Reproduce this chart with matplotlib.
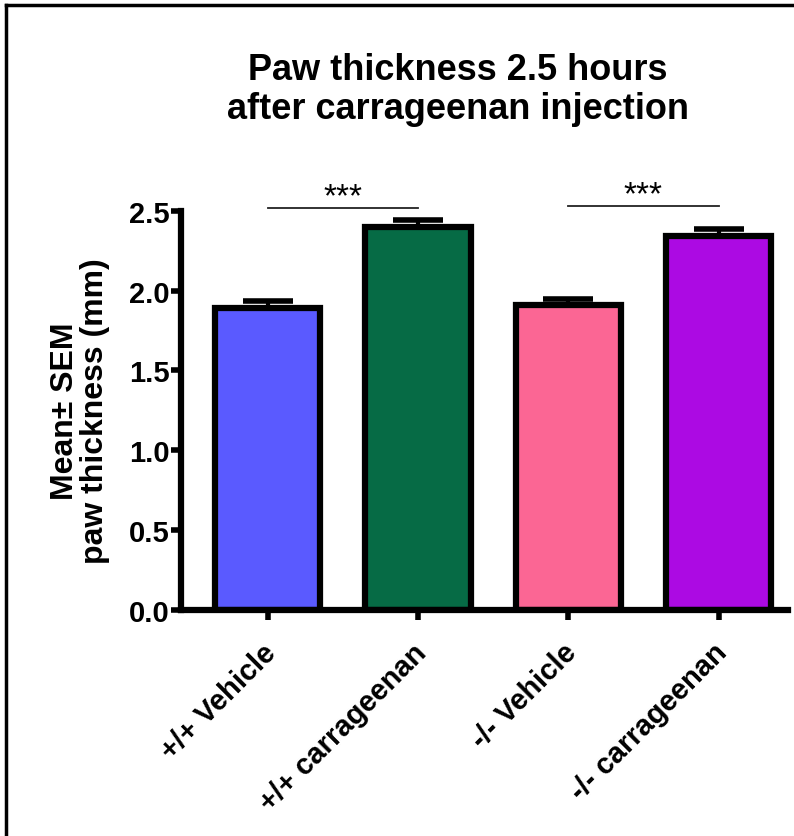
import numpy as np
import matplotlib
matplotlib.use('Agg')
import matplotlib.pyplot as plt
import matplotlib.transforms as mtransforms
from matplotlib.lines import Line2D

plt.rcParams['font.family'] = ['Liberation Sans', 'DejaVu Sans']
plt.rcParams['font.weight'] = 'bold'

groups = ['+/+ Vehicle', '+/+ carrageenan', '-/- Vehicle', '-/- carrageenan']
means = [1.89, 2.40, 1.91, 2.34]
sems = [0.045, 0.045, 0.04, 0.045]
colors = ['#5A5AFF', '#066B45', '#FB6694', '#AC0AE3']
sig_pairs = [(0, 1, 2.52), (2, 3, 2.53)]

fig = plt.figure(figsize=(7.94, 8.37), dpi=100)
ax = fig.add_axes([0.228, 0.270, 0.764, 0.477])

x = np.arange(len(groups))
ax.bar(x, means, width=0.70, color=colors, edgecolor='black', linewidth=4.5, zorder=2)
ax.errorbar(x, means, yerr=[np.zeros(len(sems)), sems], fmt='none', ecolor='black',
            elinewidth=3, capsize=18, capthick=4, zorder=1, clip_on=False)

for a, b, h in sig_pairs:
    ax.plot([a, b], [h, h], color='#222222', lw=1.3, clip_on=False)
    ax.text((a + b) / 2, h - 0.03, '***', ha='center', va='bottom', fontsize=24,
            fontweight='normal', clip_on=False)

ax.set_xlim(-0.576, 3.46)
ax.set_ylim(0, 2.5)
ax.set_yticks([0, 0.5, 1.0, 1.5, 2.0, 2.5])
ax.set_yticklabels(['0.0', '0.5', '1.0', '1.5', '2.0', '2.5'], fontsize=21, fontweight='bold')
ax.set_xticks(x)
ax.set_xticklabels(groups, rotation=45, ha='right', rotation_mode='anchor',
                   fontsize=21, fontweight='bold')
ax.tick_params(axis='both', width=4, length=7, direction='out', pad=1)
ax.tick_params(axis='x', pad=8)

# nudge rotated labels down-left a little
shift = mtransforms.ScaledTranslation(-6 / 100, -7 / 100, fig.dpi_scale_trans)
for lab in ax.get_xticklabels():
    lab.set_transform(lab.get_transform() + shift)

for s in ['top', 'right']:
    ax.spines[s].set_visible(False)
for s in ['left', 'bottom']:
    ax.spines[s].set_linewidth(4.5)

ax.set_ylabel('Mean\u00b1 SEM\npaw thickness (mm)', fontsize=23, fontweight='bold',
              labelpad=14, linespacing=1.0)

fig.text(0.577, 0.893, 'Paw thickness 2.5 hours\nafter carrageenan injection',
         ha='center', va='center', fontsize=26, fontweight='bold', linespacing=1.15)

# outer frame (top and left edges visible)
fig.add_artist(Line2D([0.008, 0.008], [0, 0.993], transform=fig.transFigure,
                      color='black', lw=2.5))
fig.add_artist(Line2D([0.008, 1.0], [0.993, 0.993], transform=fig.transFigure,
                      color='black', lw=2.5))

fig.savefig('out.png', dpi=100)
